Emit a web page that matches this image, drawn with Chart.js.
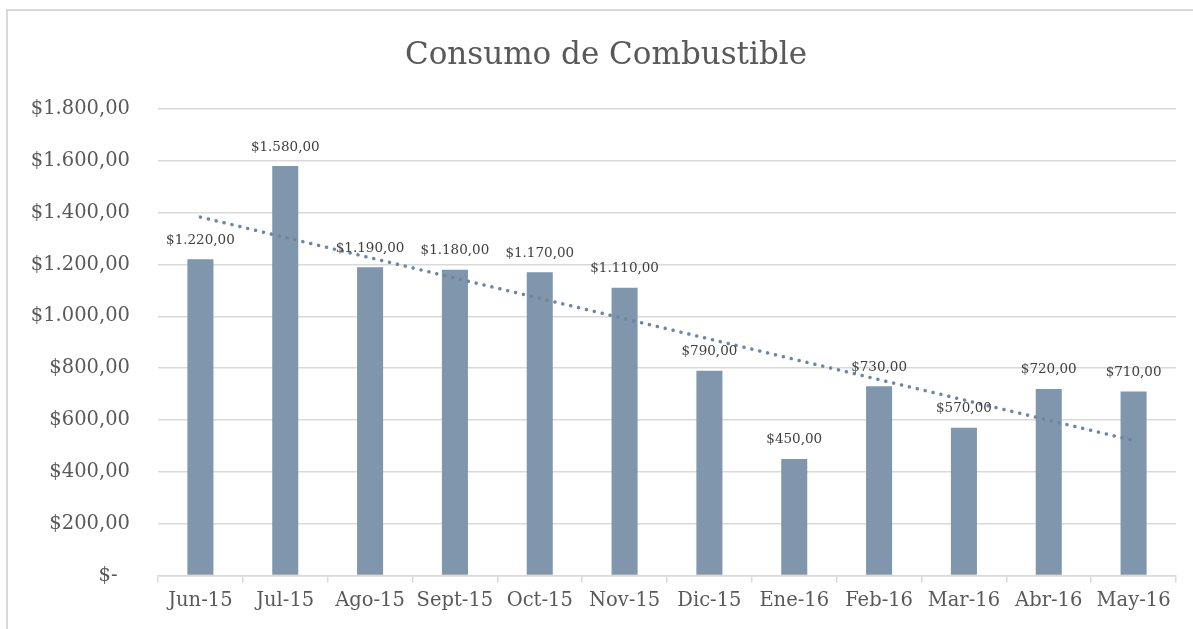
<!DOCTYPE html>
<html>
<head>
<meta charset="utf-8">
<script src="https://cdn.jsdelivr.net/npm/chart.js@4"></script>
<style>
  html, body { margin: 0; padding: 0; background: #fff; }
  #wrap { position: relative; width: 1193px; height: 629px; overflow: hidden; }
  #frame { position: absolute; left: 6px; top: 9px; width: 1300px; height: 700px; border: 2px solid #d9d9d9; box-sizing: border-box; }
  canvas { position: absolute; left: 0; top: 0; }
</style>
</head>
<body>
<div id="wrap">
  <div id="frame"></div>
  <canvas id="c" width="1193" height="629"></canvas>
</div>
<script>
const chartTitle = 'Consumo de Combustible';
const categories = ['Jun-15','Jul-15','Ago-15','Sept-15','Oct-15','Nov-15','Dic-15','Ene-16','Feb-16','Mar-16','Abr-16','May-16'];
const consumo = [1220, 1580, 1190, 1180, 1170, 1110, 790, 450, 730, 570, 720, 710];
const trendStartEnd = [1383, 521];
const yTickValues = [0, 200, 400, 600, 800, 1000, 1200, 1400, 1600, 1800];
const yTickLabels = ['$-  ', '$200,00', '$400,00', '$600,00', '$800,00', '$1.000,00', '$1.200,00', '$1.400,00', '$1.600,00', '$1.800,00'];

const SERIF = '"DejaVu Serif", "Liberation Serif", serif';
const BAR = '#7f96ad';
const TREND = '#6f86a1';

function money(v) {
  const parts = v.toFixed(2).split('.');
  const int = parts[0].replace(/\B(?=(\d{3})+(?!\d))/g, '.');
  return '$' + int + ',' + parts[1];
}

const trendData = categories.map((c, i) => i === 0 ? trendStartEnd[0] : (i === categories.length - 1 ? trendStartEnd[1] : null));

const overlay = {
  id: 'overlay',
  afterDatasetsDraw(chart) {
    const ctx = chart.ctx;
    const meta = chart.getDatasetMeta(1);
    ctx.save();
    ctx.font = '13.5px ' + SERIF;
    ctx.fillStyle = '#404040';
    ctx.textAlign = 'center';
    ctx.textBaseline = 'middle';
    meta.data.forEach((bar, i) => {
      ctx.fillText(money(consumo[i]), bar.x, bar.y - 19);
    });
    ctx.font = '31px ' + SERIF;
    ctx.fillStyle = '#595959';
    ctx.textBaseline = 'middle';
    ctx.fillText(chartTitle, 606, 56);
    ctx.restore();
  }
};

new Chart(document.getElementById('c'), {
  data: {
    labels: categories,
    datasets: [
      {
        type: 'line',
        data: trendData,
        spanGaps: true,
        borderColor: TREND,
        borderWidth: 3.5,
        borderCapStyle: 'round',
        borderDash: [0.1, 8],
        pointRadius: 0,
        fill: false,
        order: 0
      },
      {
        type: 'bar',
        data: consumo,
        backgroundColor: BAR,
        borderWidth: 0,
        barPercentage: 0.307,
        categoryPercentage: 1.0,
        order: 1
      }
    ]
  },
  plugins: [overlay],
  options: {
    responsive: false,
    animation: false,
    layout: { padding: { top: 109, right: 17, left: 0, bottom: 9 } },
    plugins: { legend: { display: false }, tooltip: { enabled: false }, title: { display: false } },
    scales: {
      x: {
        offset: true,
        grid: { display: true, offset: true, drawOnChartArea: false, drawTicks: true, tickLength: 7, color: '#d9d9d9', lineWidth: 1.5 },
        border: { display: true, color: '#d9d9d9', width: 1.5 },
        ticks: { font: { family: SERIF, size: 19.5 }, color: '#595959', padding: 7, maxRotation: 0, autoSkip: false }
      },
      y: {
        min: 0, max: 1800,
        afterBuildTicks(axis) { axis.ticks = yTickValues.map(v => ({ value: v })); },
        afterFit(axis) { axis.width = 158; },
        grid: { color: '#d9d9d9', lineWidth: 1.5, drawTicks: false },
        border: { display: false },
        ticks: {
          font: { family: SERIF, size: 19.5 }, color: '#595959', padding: 28,
          callback: (v) => yTickLabels[yTickValues.indexOf(v)]
        }
      }
    }
  }
});
</script>
</body>
</html>
